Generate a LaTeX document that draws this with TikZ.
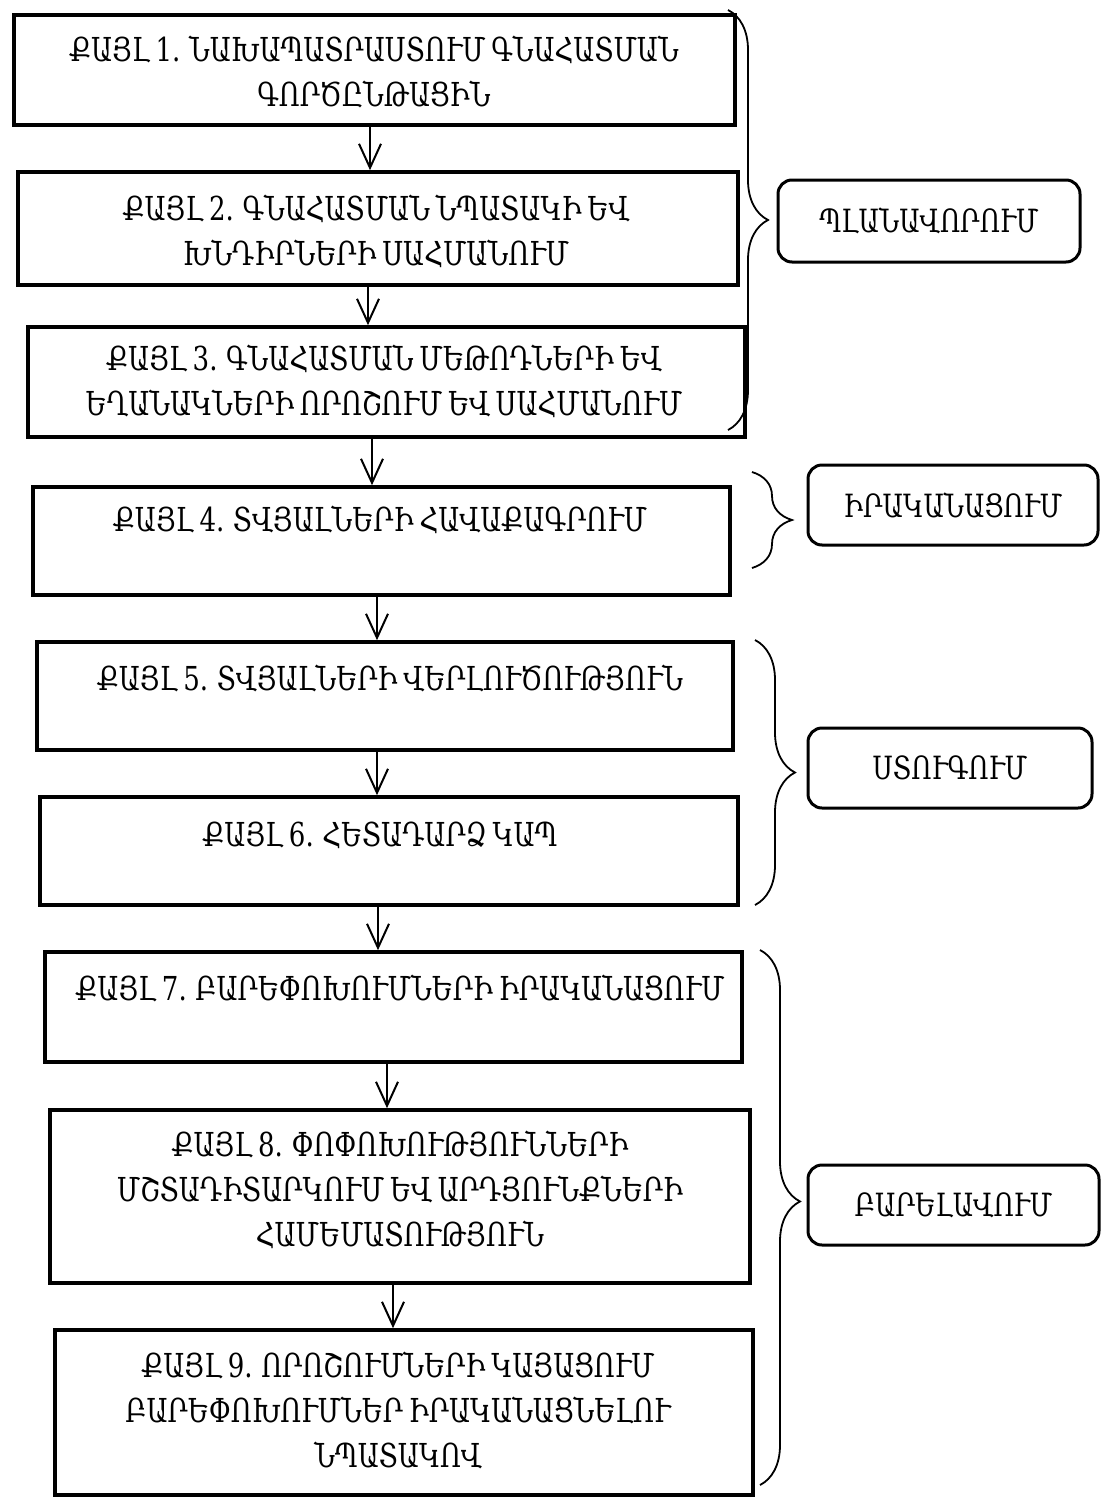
\documentclass[tikz,border=0pt]{standalone}
\usepackage{fontspec}
\setmainfont{DejaVu Serif}[FakeStretch=0.79,WordSpace=0.7]
\usetikzlibrary{arrows.meta,decorations.pathreplacing}
\newcommand\stepnode[5]{\node[stepbox, minimum width={(#4-#2)*0.5pt}, minimum height={(#5-#3)*0.5pt}] (#1) at ({(#2+#4)/2},{(#3+#5)/2}) {};}
\newcommand\phasenode[6]{\node[phasebox, minimum width={(#4-#2)*0.5pt}, minimum height={(#5-#3)*0.5pt}] (#1) at ({(#2+#4)/2},{(#3+#5)/2}) {#6};}
\begin{document}
\begin{tikzpicture}[x=0.5pt,y=-0.5pt,
  stepbox/.style={draw, line width=1.8pt, inner sep=0pt},
  phasebox/.style={draw, line width=1.5pt, rounded corners=7pt, inner sep=0pt, font=\fontsize{16}{22}\selectfont},
  txt/.style={font=\fontsize{16.5}{22.5}\selectfont, align=center, inner sep=0pt},
  arr/.style={-{Straight Barb[length=12pt,width=11pt,line width=1pt]}, line width=1pt},
  brc/.style={decorate, decoration={brace, amplitude=20pt}, line width=0.9pt}]
\useasboundingbox (0,0) rectangle (1101,1499);
% step boxes
\stepnode{b1}{14}{15}{735}{125}
\stepnode{b2}{18}{172}{738}{285}
\stepnode{b3}{28}{327}{745}{437}
\stepnode{b4}{33}{487}{730}{595}
\stepnode{b5}{37}{642}{733}{750}
\stepnode{b6}{40}{797}{738}{905}
\stepnode{b7}{45}{952}{742}{1062}
\stepnode{b8}{50}{1110}{750}{1283}
\stepnode{b9}{55}{1330}{753}{1495}
% texts
\node[txt] (t1) at (374,72) {ՔԱՅԼ 1. ՆԱԽԱՊԱՏՐԱՍՏՈՒՄ ԳՆԱՀԱՏՄԱՆ\\ԳՈՐԾԸՆԹԱՑԻՆ};
\node[txt] (t2) at (376,231) {ՔԱՅԼ 2. ԳՆԱՀԱՏՄԱՆ ՆՊԱՏԱԿԻ ԵՎ\\ԽՆԴԻՐՆԵՐԻ ՍԱՀՄԱՆՈՒՄ};
\node[txt] (t3) at (384,381) {ՔԱՅԼ 3. ԳՆԱՀԱՏՄԱՆ ՄԵԹՈԴՆԵՐԻ ԵՎ\\ԵՂԱՆԱԿՆԵՐԻ ՈՐՈՇՈՒՄ ԵՎ ՍԱՀՄԱՆՈՒՄ};
\node[txt] (t4) at (380,520) {ՔԱՅԼ 4. ՏՎՅԱԼՆԵՐԻ ՀԱՎԱՔԱԳՐՈՒՄ};
\node[txt] (t5) at (390,678) {ՔԱՅԼ 5. ՏՎՅԱԼՆԵՐԻ ՎԵՐԼՈՒԾՈՒԹՅՈՒՆ};
\node[txt] (t6) at (380,835) {ՔԱՅԼ 6. ՀԵՏԱԴԱՐՁ ԿԱՊ};
\node[txt] (t7) at (400,988) {ՔԱՅԼ 7. ԲԱՐԵՓՈԽՈՒՄՆԵՐԻ ԻՐԱԿԱՆԱՑՈՒՄ};
\node[txt] (t8) at (400,1190) {ՔԱՅԼ 8. ՓՈՓՈԽՈՒԹՅՈՒՆՆԵՐԻ\\ՄՇՏԱԴԻՏԱՐԿՈՒՄ ԵՎ ԱՐԴՅՈՒՆՔՆԵՐԻ\\ՀԱՄԵՄԱՏՈՒԹՅՈՒՆ};
\node[txt] (t9) at (398,1410) {ՔԱՅԼ 9. ՈՐՈՇՈՒՄՆԵՐԻ ԿԱՅԱՑՈՒՄ\\ԲԱՐԵՓՈԽՈՒՄՆԵՐ ԻՐԱԿԱՆԱՑՆԵԼՈՒ\\ՆՊԱՏԱԿՈՎ};
% arrows
\draw[arr] (b1.south -| 370,0) -- (b2.north -| 370,0);
\draw[arr] (b2.south -| 368,0) -- (b3.north -| 368,0);
\draw[arr] (b3.south -| 372,0) -- (b4.north -| 372,0);
\draw[arr] (b4.south -| 377,0) -- (b5.north -| 377,0);
\draw[arr] (b5.south -| 377,0) -- (b6.north -| 377,0);
\draw[arr] (b6.south -| 378,0) -- (b7.north -| 378,0);
\draw[arr] (b7.south -| 387,0) -- (b8.north -| 387,0);
\draw[arr] (b8.south -| 393,0) -- (b9.north -| 393,0);
% phase boxes
\phasenode{p1}{778}{180}{1080}{262}{ՊԼԱՆԱՎՈՐՈՒՄ}
\phasenode{p2}{808}{465}{1098}{545}{ԻՐԱԿԱՆԱՑՈՒՄ}
\phasenode{p3}{808}{728}{1092}{808}{ՍՏՈՒԳՈՒՄ}
\phasenode{p4}{808}{1165}{1099}{1245}{ԲԱՐԵԼԱՎՈՒՄ}
% braces
\coordinate (c1a) at (728,10);  \coordinate (c1b) at (728,430);
\coordinate (c2a) at (752,472); \coordinate (c2b) at (752,568);
\coordinate (c3a) at (755,640); \coordinate (c3b) at (755,905);
\coordinate (c4a) at (760,950); \coordinate (c4b) at (760,1485);
\draw[brc] (c1a) -- (c1b);
\draw[brc] (c2a) -- (c2b);
\draw[brc] (c3a) -- (c3b);
\draw[brc, decoration={aspect=0.47}] (c4a) -- (c4b);
\end{tikzpicture}
\end{document}
